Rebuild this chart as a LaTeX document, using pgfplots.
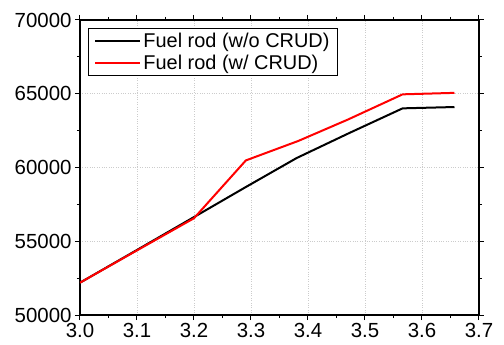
\documentclass[border=0pt]{standalone}
\usepackage{fontspec}
\setmainfont{Liberation Sans}
\usepackage{pgfplots}
\pgfplotsset{compat=1.18}
\begin{document}
\begin{tikzpicture}
\useasboundingbox (-80bp,-30bp) rectangle (424bp,315bp);
\begin{axis}[
  at={(0,0)}, anchor=south west,
  width=399bp, height=295bp, scale only axis,
  xmin=3.0, xmax=3.7, ymin=50000, ymax=70000,
  xtick={3.0,3.1,...,3.7}, ytick={50000,55000,...,70000},
  minor tick num=1,
  tick align=outside,
  major tick length=5bp, minor tick length=3bp,
  axis line style={line width=1.2bp},
  every tick/.style={black, line width=1bp},
  grid=major,
  major grid style={dotted, gray!40, line width=0.8bp},
  /pgf/number format/assume math mode=true,
  tick label style={font=\fontsize{20.5}{21}\selectfont},
  xticklabel style={/pgf/number format/fixed, /pgf/number format/fixed zerofill, /pgf/number format/precision=1},
  yticklabel style={/pgf/number format/fixed, /pgf/number format/1000 sep={}},
  scaled ticks=false,
  legend style={at={(rel axis cs:0.02,0.973)}, anchor=north west,
    draw=black, line width=1bp, font=\fontsize{20}{21}\selectfont,
    inner xsep=6bp, inner ysep=3bp, row sep=1.5bp,
    /tikz/every even column/.append style={column sep=2bp}},
  legend cell align=left,
  legend image code/.code={\draw[#1, line width=2bp] (0,0) -- (45bp,0);},
]
\addplot[black, line width=2bp] coordinates {
(3.0,52190) (3.1,54410) (3.2,56640) (3.292,58700) (3.380,60640) (3.472,62330) (3.566,64010) (3.657,64100)};
\addlegendentry{Fuel rod (w/o CRUD)}
\addplot[red, line width=2bp] coordinates {
(3.0,52190) (3.1,54380) (3.2,56560) (3.291,60480) (3.383,61800) (3.470,63250) (3.566,64960) (3.657,65060)};
\addlegendentry{Fuel rod (w/ CRUD)}
\end{axis}
\end{tikzpicture}
\end{document}
